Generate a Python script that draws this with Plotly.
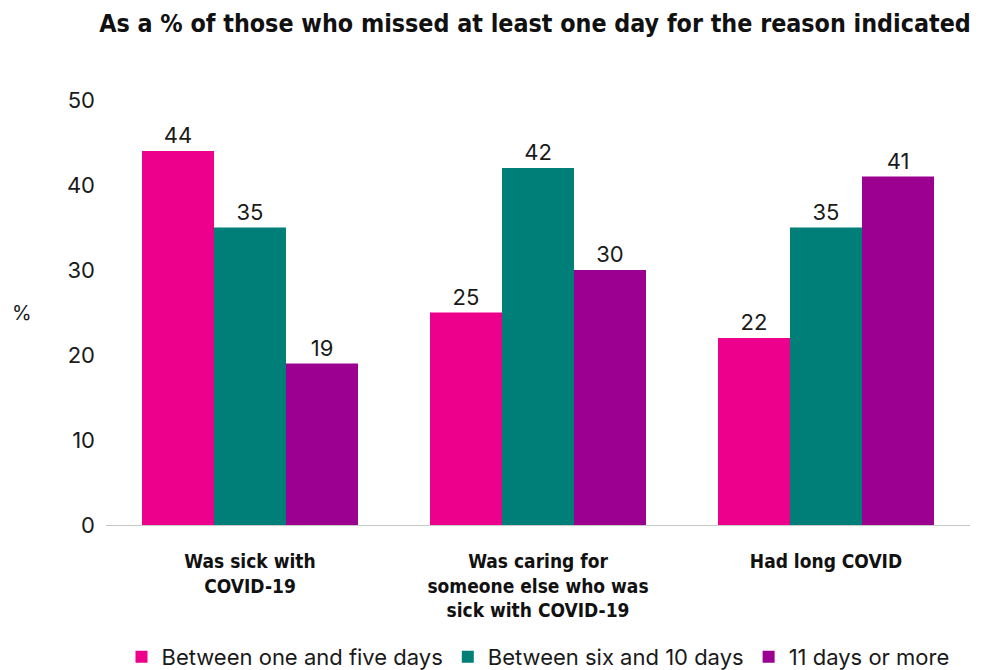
import plotly.graph_objects as go

categories = [
    "Was sick with<br>COVID-19",
    "Was caring for<br>someone else who was<br>sick with COVID-19",
    "Had long COVID",
]
series_names = ["Between one and five days", "Between six and 10 days", "11 days or more"]
one_to_five = [44, 25, 22]
six_to_ten = [35, 42, 35]
eleven_plus = [19, 30, 41]
y_ticks = [0, 10, 20, 30, 40, 50]

colors = ["#EC008C", "#007F78", "#9B0090"]
body_font = "Inter, Noto Sans, sans-serif"
head_font = "DejaVu Sans Condensed, Liberation Sans Narrow, sans-serif"

# page has an 8px body margin, so offsets below are relative to the figure
ml, mt, plot_w, plot_h = 98, 92, 864, 425

fig = go.Figure()
for name, vals, col in zip(series_names, [one_to_five, six_to_ten, eleven_plus], colors):
    fig.add_trace(
        go.Bar(
            x=categories,
            y=vals,
            name=name,
            marker=dict(color=col, line=dict(width=0)),
            text=vals,
            textposition="outside",
            textfont=dict(family=body_font, size=22, color="#1a1a1a"),
            cliponaxis=False,
        )
    )

fig.update_layout(
    width=987,
    height=670,
    paper_bgcolor="white",
    plot_bgcolor="white",
    barmode="group",
    bargap=0.25,
    bargroupgap=0,
    margin=dict(l=ml, r=987 - ml - plot_w, t=mt, b=670 - mt - plot_h),
    title=dict(
        text="<b>As a % of those who missed at least one day for the reason indicated</b>",
        font=dict(family=head_font, size=24.8, color="#111111"),
        x=527 / 987,
        xanchor="center",
        y=1 - 15 / 670,
        yanchor="middle",
    ),
    showlegend=True,
    legend=dict(
        orientation="h",
        x=0.5,
        xanchor="center",
        yref="container",
        y=(670 - 649) / 670,
        yanchor="middle",
        font=dict(family=body_font, size=22, color="#1a1a1a"),
        traceorder="normal",
    ),
    annotations=[
        dict(
            text="%",
            x=(14 - ml) / plot_w,
            xref="paper",
            y=(mt + plot_h - 305) / plot_h,
            yref="paper",
            xanchor="center",
            yanchor="middle",
            showarrow=False,
            font=dict(family=body_font, size=20, color="#1a1a1a"),
        )
    ],
)

fig.update_yaxes(
    range=[0, 50],
    tickvals=y_ticks,
    showgrid=False,
    zeroline=False,
    showline=False,
    ticks="",
    ticklabelstandoff=10,
    tickfont=dict(family=body_font, size=22, color="#1a1a1a"),
)
fig.update_xaxes(
    showline=True,
    linecolor="#c8c8c8",
    linewidth=1,
    ticks="",
    ticklabelstandoff=19,
    tickfont=dict(family=head_font, size=19, color="#111111", weight="bold"),
)

fig.write_html("out.html")
